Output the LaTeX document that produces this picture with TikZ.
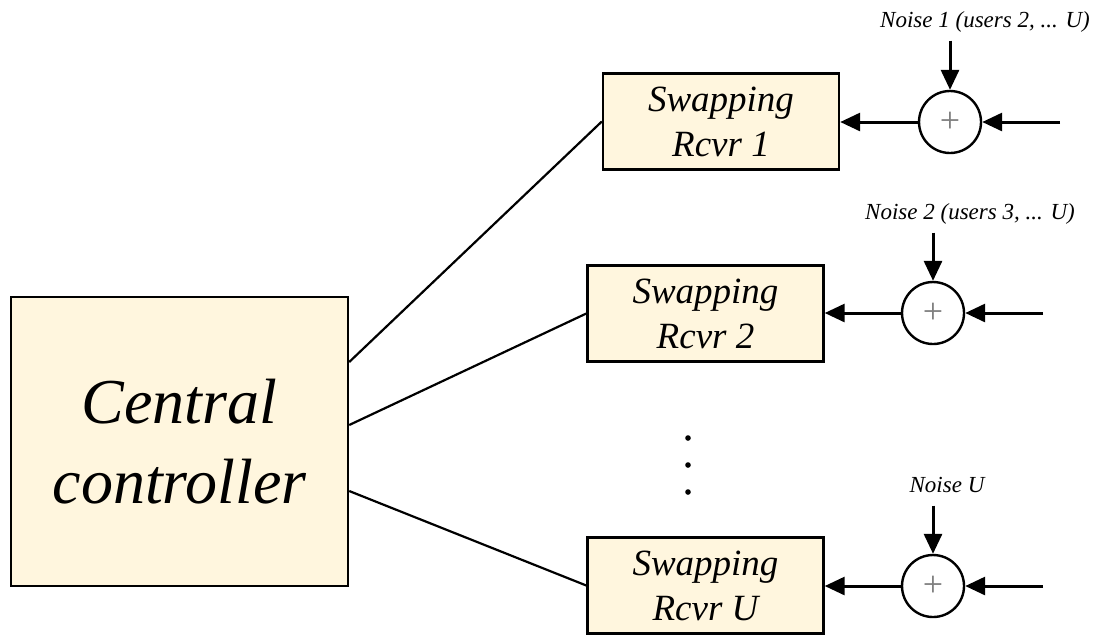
\documentclass[tikz,border=0pt]{standalone}
\usepackage{fontspec}
\setmainfont{Liberation Serif}
\usetikzlibrary{arrows.meta,calc}
\definecolor{cream}{RGB}{255,246,222}

\begin{document}
\begin{tikzpicture}[x=0.5pt,y=-0.5pt,
    blk/.style={draw,line width=1.2pt,fill=cream,inner sep=0pt,align=center},
    rcvr/.style={blk,minimum width=118pt,minimum height=48pt,font=\itshape\fontsize{18.5}{22.5}\selectfont},
    sumnode/.style={draw,circle,line width=1.2pt,minimum size=31pt,inner sep=0pt,text=gray,font=\fontsize{18}{18}\selectfont},
    noiselbl/.style={inner sep=4pt,font=\itshape\fontsize{11.5}{13}\selectfont,text height=0.7em,text depth=0.25em},
    arr/.style={line width=1.5pt,-{Triangle[length=10pt,width=9pt]}},
    link/.style={line width=1.1pt}]
  \useasboundingbox (0,0) rectangle (1112,634);
  \node[blk,minimum width=168.5pt,minimum height=144.5pt,font=\itshape\fontsize{32}{40}\selectfont] (cc) at (179.5,441.5) {Central\\controller};
  \node[rcvr] (r1) at (721,121.5) {Swapping\\Rcvr 1};
  \node[rcvr] (r2) at (705.5,313.5) {Swapping\\Rcvr 2};
  \node[rcvr] (rU) at (705.5,585.5) {Swapping\\Rcvr U};
  \node[sumnode] (s1) at (950,122) {+};
  \node[sumnode] (s2) at (933,313) {+};
  \node[sumnode] (sU) at (933,586) {+};
  \node[noiselbl] (n1) at (985,22.8) {Noise 1 (users 2, ... U)};
  \node[noiselbl] (n2) at (970,214.8) {Noise 2 (users 3, ... U)};
  \node[noiselbl] (nU) at (947,487.8) {Noise U};
  \coordinate (i1) at (1060,122);
  \coordinate (i2) at (1043,313);
  \coordinate (iU) at (1043,586);
  \draw[link] ($(cc.east)+(0,-79.5)$) -- (r1.west);
  \draw[link] ($(cc.east)+(0,-16.5)$) -- (r2.west);
  \draw[link] ($(cc.east)+(0,49.5)$) -- (rU.west);
  \draw[arr] (i1) -- (s1);
  \draw[arr] (i2) -- (s2);
  \draw[arr] (iU) -- (sU);
  \draw[arr] (s1.west) -- (s1 -| r1.east);
  \draw[arr] (s2.west) -- (s2 -| r2.east);
  \draw[arr] (sU.west) -- (sU -| rU.east);
  \draw[arr] (n1.south -| s1) -- (s1);
  \draw[arr] (n2.south -| s2) -- (s2);
  \draw[arr] (nU.south -| sU) -- (sU);
  \foreach \y in {438,465,492} \fill (688,\y) circle (1.4pt);
\end{tikzpicture}
\end{document}
